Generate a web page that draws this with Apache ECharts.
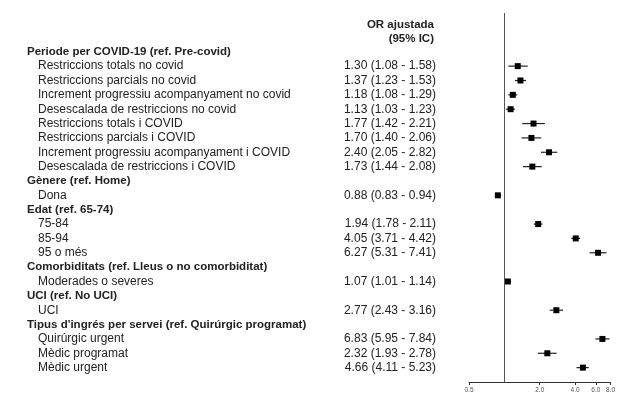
<!DOCTYPE html>
<html>
<head>
<meta charset="utf-8">
<script src="https://cdn.jsdelivr.net/npm/echarts@6/dist/echarts.min.js"></script>
<style>
  html, body { margin: 0; padding: 0; background: #fff; }
  #chart { width: 618px; height: 398px; }
</style>
</head>
<body>
<div id="chart"></div>
<script>
// Row labels (group headers have no estimate)
const labels = [
  'Periode per COVID-19 (ref. Pre-covid)',
  'Restriccions totals no covid',
  'Restriccions parcials no covid',
  'Increment progressiu acompanyament no covid',
  'Desescalada de restriccions no covid',
  'Restriccions totals i COVID',
  'Restriccions parcials i COVID',
  'Increment progressiu acompanyament i COVID',
  'Desescalada de restriccions i COVID',
  'Gènere (ref. Home)',
  'Dona',
  'Edat (ref. 65-74)',
  '75-84',
  '85-94',
  '95 o més',
  'Comorbiditats (ref. Lleus o no comorbiditat)',
  'Moderades o severes',
  'UCI (ref. No UCI)',
  'UCI',
  "Tipus d'ingrés per servei (ref. Quirúrgic programat)",
  'Quirúrgic urgent',
  'Mèdic programat',
  'Mèdic urgent'
];
const isHeader = [1,0,0,0,0,0,0,0,0,1,0,1,0,0,0,1,0,1,0,1,0,0,0];
const orValues = [null,1.30,1.37,1.18,1.13,1.77,1.70,2.40,1.73,null,0.88,null,1.94,4.05,6.27,null,1.07,null,2.77,null,6.83,2.32,4.66];
const ciLow    = [null,1.08,1.23,1.08,1.03,1.42,1.40,2.05,1.44,null,0.83,null,1.78,3.71,5.31,null,1.01,null,2.43,null,5.95,1.93,4.11];
const ciHigh   = [null,1.58,1.53,1.29,1.23,2.21,2.06,2.82,2.08,null,0.94,null,2.11,4.42,7.41,null,1.14,null,3.16,null,7.84,2.78,5.23];
const xTicks = [0.5, 2.0, 4.0, 6.0, 8.0];
const refValue = 1;

const fam = '"Liberation Sans", Arial, sans-serif';
const fsBold = 11.5;
const fsReg = 12;
const chart = echarts.init(document.getElementById('chart'), null, { renderer: 'canvas' });

const rows = labels.map((l, i) => [i, orValues[i] == null ? refValue : orValues[i]]);

chart.setOption({
  animation: false,
  backgroundColor: '#fff',
  grid: { left: 469, right: 6, top: 13, bottom: 16 },
  xAxis: {
    type: 'log', logBase: 2, min: 0.5, max: 8,
    splitLine: { show: false },
    axisLine: { show: true, onZero: false, lineStyle: { color: '#333', width: 1 } },
    axisTick: { show: true, customValues: xTicks, length: 3, lineStyle: { color: '#333' } },
    axisLabel: {
      customValues: xTicks, fontSize: 6.5, color: '#555', fontFamily: fam, margin: 5,
      formatter: v => Number(v).toFixed(1)
    }
  },
  yAxis: {
    type: 'value', inverse: true, min: -2.7, max: 23.0,
    show: false
  },
  graphic: [
    { type: 'text', right: 184, top: 19, style: { text: 'OR ajustada', font: 'bold ' + fsBold + 'px ' + fam, fill: '#222', textAlign: 'right' } },
    { type: 'text', right: 184, top: 33, style: { text: '(95% IC)', font: 'bold ' + fsBold + 'px ' + fam, fill: '#222', textAlign: 'right' } }
  ],
  series: [
    {
      type: 'custom',
      coordinateSystem: 'cartesian2d',
      clip: false,
      encode: { x: 1, y: 0 },
      data: rows,
      renderItem: function (params, api) {
        const i = api.value(0);
        const y = api.coord([refValue, i])[1];
        const children = [];
        const head = isHeader[i] === 1;
        children.push({
          type: 'text',
          style: {
            text: labels[i], x: head ? 27 : 38, y: y,
            textVerticalAlign: 'middle', verticalAlign: 'middle',
            font: head ? ('bold ' + fsBold + 'px ' + fam) : (fsReg + 'px ' + fam),
            fill: '#222'
          }
        });
        if (orValues[i] != null) {
          const txt = orValues[i].toFixed(2) + ' (' + ciLow[i].toFixed(2) + ' - ' + ciHigh[i].toFixed(2) + ')';
          children.push({
            type: 'text',
            style: {
              text: txt, x: 436, y: y, textAlign: 'right',
              textVerticalAlign: 'middle', verticalAlign: 'middle',
              font: fsReg + 'px ' + fam, fill: '#222'
            }
          });
          const pLo = api.coord([ciLow[i], i]);
          const pHi = api.coord([ciHigh[i], i]);
          const pM = api.coord([orValues[i], i]);
          children.push({
            type: 'line',
            shape: { x1: pLo[0], y1: pLo[1], x2: pHi[0], y2: pHi[1] },
            style: { stroke: '#222', lineWidth: 1.2 }
          });
          children.push({
            type: 'rect',
            shape: { x: pM[0] - 3, y: pM[1] - 3, width: 6, height: 6 },
            style: { fill: '#000' }
          });
        }
        return { type: 'group', children: children };
      }
    },
    {
      type: 'line',
      data: [],
      markLine: {
        silent: true, symbol: 'none', label: { show: false },
        lineStyle: { color: '#555', width: 1, type: 'solid' },
        data: [{ xAxis: refValue }]
      }
    }
  ]
});
</script>
</body>
</html>
